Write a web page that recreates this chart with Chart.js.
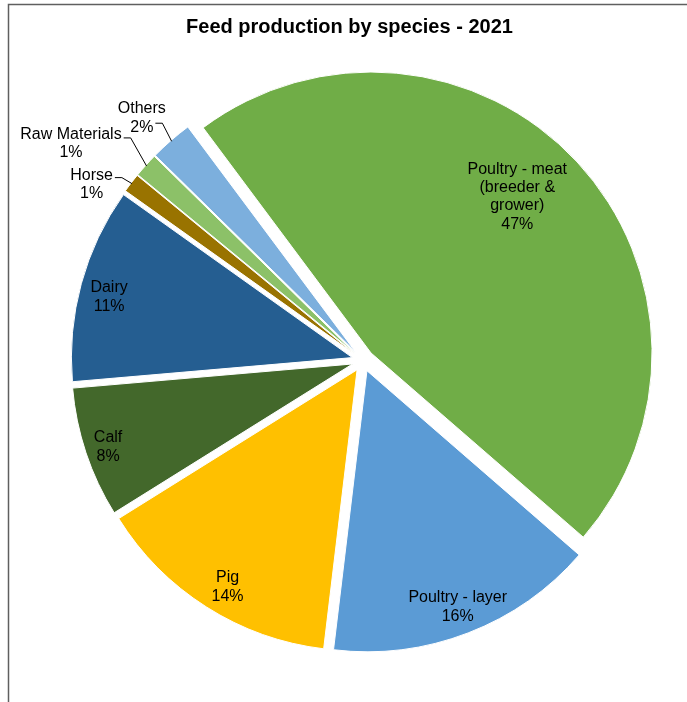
<!DOCTYPE html>
<html>
<head>
<meta charset="utf-8">
<script src="https://cdn.jsdelivr.net/npm/chart.js@4"></script>
<style>
  html, body { margin: 0; padding: 0; background: #fff; }
  #wrap { position: relative; width: 687px; height: 702px; }
</style>
</head>
<body>
<div id="wrap"><canvas id="c"></canvas></div>
<script>
// ---- data ----
const chartTitle = 'Feed production by species - 2021';
const categories = ['Poultry - meat (breeder & grower)', 'Poultry - layer', 'Pig', 'Calf', 'Dairy', 'Horse', 'Raw Materials', 'Others'];
const labelLines = [['Poultry - meat', '(breeder &', 'grower)'], ['Poultry - layer'], ['Pig'], ['Calf'], ['Dairy'], ['Horse'], ['Raw Materials'], ['Others']];
const shares = [46.5, 15.5, 14.2, 7.5, 11.2, 1.1, 1.4, 2.45];

// ---- styles ----
const sliceColors = ['#70AD47', '#5B9BD5', '#FFC000', '#43682B', '#255E91', '#997300', '#8CC168', '#7CAFDD'];
const EXPLODE = 11;
const FONT = '"Liberation Sans", Arial, sans-serif';
// label placement: k = distance / radius from slice vertex, d = angle shift (deg),
// leader = line index the leader starts from, ldy = leader y relative to label centre
const labelPlace = [
  { k: 0.764, d: -4.2 },
  { k: 0.897, d: 0 },
  { k: 0.897, d: -1.5 },
  { k: 0.918, d: -0.15 },
  { k: 0.893, d: -1.1 },
  { k: 1.114, d: -4.5, leader: 0, ldy: -6 },
  { k: 1.258, d: -5.35, leader: 0, ldy: -4.5 },
  { k: 1.131, d: -1.2, leader: 1, ldy: 6 }
];

const total = shares.reduce((a, b) => a + b, 0);

const piePlugin = {
  id: 'explodedPie',
  beforeDatasetDraw(chart, args) {
    const ctx = chart.ctx;
    args.meta.data.forEach(arc => {
      const m = (arc.startAngle + arc.endAngle) / 2;
      ctx.save();
      ctx.translate(Math.cos(m) * EXPLODE, Math.sin(m) * EXPLODE);
      arc.draw(ctx);
      ctx.restore();
    });
    return false;
  },
  afterDatasetsDraw(chart) {
    const ctx = chart.ctx;
    const arcs = chart.getDatasetMeta(0).data;
    const lh = 18.4;
    ctx.save();
    ctx.font = '16px ' + FONT;
    ctx.fillStyle = '#000';
    ctx.textAlign = 'center';
    ctx.textBaseline = 'middle';
    arcs.forEach((arc, i) => {
      const m = (arc.startAngle + arc.endAngle) / 2;
      const vx = arc.x + Math.cos(m) * EXPLODE;
      const vy = arc.y + Math.sin(m) * EXPLODE;
      const R = arc.outerRadius;
      const p = labelPlace[i];
      const a = m + p.d * Math.PI / 180;
      const cx = vx + Math.cos(a) * R * p.k;
      const cy = vy + Math.sin(a) * R * p.k;
      const lines = labelLines[i].concat([Math.round(shares[i] / total * 100) + '%']);
      const n = lines.length;
      lines.forEach((t, j) => {
        ctx.fillText(t, cx, cy + (j - (n - 1) / 2) * lh + 1);
      });
      if (p.leader !== undefined) {
        const w = ctx.measureText(lines[p.leader]).width;
        const sx = cx + w / 2 + 2;
        const sy = cy + p.ldy;
        const ex = vx + Math.cos(m) * (R - 1);
        const ey = vy + Math.sin(m) * (R - 1);
        ctx.beginPath();
        ctx.strokeStyle = '#000';
        ctx.lineWidth = 1;
        ctx.moveTo(sx, sy);
        ctx.lineTo(sx + 7, sy);
        ctx.lineTo(ex, ey);
        ctx.stroke();
      }
    });
    ctx.restore();
  },
  afterDraw(chart) {
    const ctx = chart.ctx;
    ctx.save();
    // frame
    ctx.strokeStyle = '#5f5f5f';
    ctx.lineWidth = 1.5;
    ctx.beginPath();
    ctx.moveTo(8.5, 702);
    ctx.lineTo(8.5, 4.5);
    ctx.lineTo(687, 4.5);
    ctx.stroke();
    // title
    ctx.fillStyle = '#000';
    ctx.font = 'bold 20px ' + FONT;
    ctx.textAlign = 'center';
    ctx.textBaseline = 'alphabetic';
    ctx.fillText(chartTitle, 349.5, 33);
    ctx.restore();
  }
};

new Chart(document.getElementById('c'), {
  type: 'pie',
  data: {
    labels: categories,
    datasets: [{
      data: shares,
      backgroundColor: sliceColors,
      borderColor: '#ffffff',
      borderWidth: 1
    }]
  },
  options: {
    responsive: true,
    maintainAspectRatio: false,
    animation: false,
    events: [],
    rotation: -36.7,
    radius: 281,
    layout: { padding: { left: 39, right: 0, top: 19, bottom: 0 } },
    plugins: {
      legend: { display: false },
      tooltip: { enabled: false },
      title: { display: false }
    }
  },
  plugins: [piePlugin]
});
</script>
</body>
</html>
